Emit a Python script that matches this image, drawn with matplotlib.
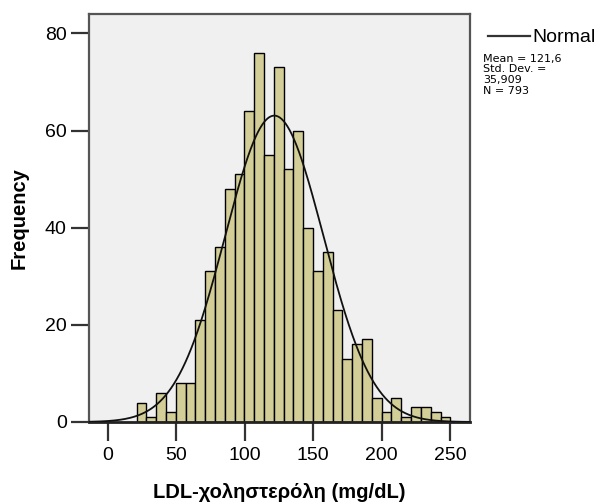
import numpy as np
import matplotlib.pyplot as plt

# histogram of LDL cholesterol (SPSS style)
counts = [4, 1, 6, 2, 8, 8, 21, 31, 36, 48, 51, 64, 76, 55, 73, 52,
          60, 40, 31, 35, 23, 13, 16, 17, 5, 2, 5, 1, 3, 3, 2, 1]
bin_start = 21.0
bin_width = 7.16
mean = 121.6
std = 35.909
n = 793

x_ticks = [0, 50, 100, 150, 200, 250]
y_ticks = [0, 20, 40, 60, 80]

plt.rcParams['font.family'] = ['Liberation Sans', 'DejaVu Sans']

fig = plt.figure(figsize=(6.0, 5.04), dpi=100)
ax = fig.add_axes([89 / 600, 1 - 422 / 504, (470 - 89) / 600, (422 - 14) / 504])
ax.set_facecolor('#f0f0f0')

edges = bin_start + bin_width * np.arange(len(counts))
ax.bar(edges, counts, width=bin_width, align='edge', color='#d3ce97',
       edgecolor='black', linewidth=1.0, zorder=2)

xlim = (-13.7, 264.5)
xs = np.linspace(xlim[0], xlim[1], 400)
pdf = np.exp(-0.5 * ((xs - mean) / std) ** 2) / (std * np.sqrt(2 * np.pi))
ax.plot(xs, n * bin_width * pdf, color='#111111', linewidth=1.3, zorder=3)

ax.set_xlim(*xlim)
ax.set_ylim(0, 84)
ax.set_xticks(x_ticks)
ax.set_yticks(y_ticks)
ax.tick_params(axis='both', labelsize=14, width=1.6, color='#333333')
ax.tick_params(axis='x', length=14, pad=4)
ax.tick_params(axis='y', length=13, pad=3)

for side in ['top', 'right', 'left']:
    ax.spines[side].set_color('#555555')
    ax.spines[side].set_linewidth(1.6)
ax.spines['bottom'].set_color('#222222')
ax.spines['bottom'].set_linewidth(2.0)

ax.set_xlabel('LDL-χοληστερόλη (mg/dL)', fontsize=14.5, fontweight='bold', labelpad=14)
ax.set_ylabel('Frequency', fontsize=14.5, fontweight='bold', labelpad=12)

# legend panel on the right
fig.lines.append(plt.Line2D([488 / 600, 530 / 600], [1 - 36 / 504, 1 - 36 / 504],
                            transform=fig.transFigure, color='#333333', linewidth=1.6))
fig.text(532 / 600, 1 - 38 / 504, 'Normal', fontsize=14, va='center', ha='left')
stats = ['Mean = 121,6', 'Std. Dev. =', '35,909', 'N = 793']
for i, line in enumerate(stats):
    fig.text(483 / 600, 1 - (59 + 10.5 * i) / 504, line, fontsize=8,
             family='DejaVu Sans', va='center', ha='left')

fig.savefig('out.png', dpi=100)
